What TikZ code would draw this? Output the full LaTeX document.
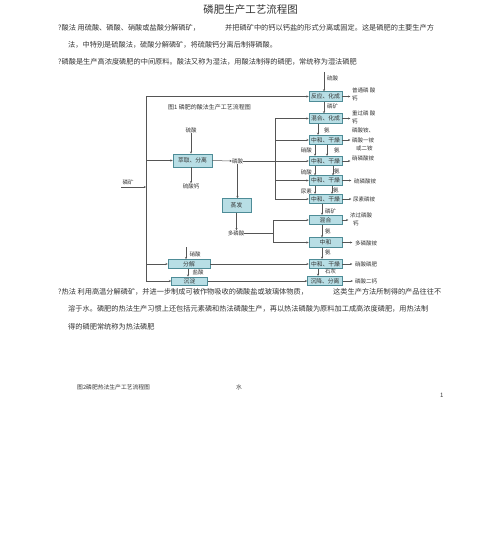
\documentclass[tikz,border=0pt]{standalone}
\usepackage{fontspec}
\setmainfont{Noto Sans CJK SC}
\usetikzlibrary{arrows.meta}
\definecolor{boxfill}{HTML}{B8DEE5}
\definecolor{boxline}{HTML}{4E8C97}
\definecolor{lin}{HTML}{555555}
\definecolor{txt}{HTML}{333333}
\tikzset{
  body/.style={anchor=west,inner sep=0pt,text=txt,font=\fontsize{7.2}{8}\selectfont},
  pbox/.style={draw=boxline,fill=boxfill,line width=0.6pt,inner sep=0pt,minimum width=33pt,minimum height=9.5pt,text=txt,font=\fontsize{5.8}{6}\selectfont},
  lab/.style={inner sep=0pt,text=txt,font=\fontsize{5.5}{6}\selectfont},
  outl/.style={lab,anchor=west,align=left},
  ln/.style={draw=lin,line width=0.5pt},
  arr/.style={ln,-{Stealth[length=2.2pt,width=2pt]}}
}
\begin{document}
\begin{tikzpicture}[x=1pt,y=-1pt]
\useasboundingbox (0,0) rectangle (500,540);
% ---- text ----
\node[inner sep=0pt,text=txt,font=\fontsize{10.5}{11}\selectfont] (title) at (250.5,10) {磷肥生产工艺流程图};
\node[body] (t1a) at (58,28) {?酸法 用硫酸、磷酸、硝酸或盐酸分解磷矿，};
\node[body] (t1b) at (225,28) {并把磷矿中的钙以钙盐的形式分离或固定。这是磷肥的主要生产方};
\node[body] (t2) at (68,45) {法，中特别是硫酸法，硫酸分解磷矿，将硫酸钙分离后制得磷酸。};
\node[body] (t3) at (58,62) {?磷酸是生产高浓度磷肥的中间原料。酸法又称为湿法，用酸法制得的磷肥，常统称为湿法磷肥};
\node[body] (u1a) at (58,292) {?热法 利用高温分解磷矿，并进一步制成可被作物吸收的磷酸盐或玻璃体物质，};
\node[body] (u1b) at (333,292) {这类生产方法所制得的产品往往不};
\node[body] (u2) at (68,309) {溶于水。磷肥的热法生产习惯上还包括元素磷和热法磷酸生产，再以热法磷酸为原料加工成高浓度磷肥，用热法制};
\node[body] (u3) at (68,327) {得的磷肥常统称为热法磷肥};
\node[body,font=\fontsize{5.8}{6}\selectfont] (cap2) at (77,387) {图2磷肥热法生产工艺流程图};
\node[body,font=\fontsize{5.8}{6}\selectfont] (water) at (236,387) {水};
\node[body,font=\fontsize{6}{6}\selectfont] (pg) at (440,395) {1};
\node[lab,anchor=west,font=\fontsize{6}{6}\selectfont] (cap1) at (168,107) {图1 磷肥的酸法生产工艺流程图};
% ---- right column boxes ----
\node[pbox] (b1) at (325.5,96.5) {反应、化成};
\node[pbox] (b2) at (325.5,118.5) {混合、化成};
\node[pbox] (b3) at (325.5,140) {中和、干燥};
\node[pbox] (b4) at (325.5,161) {中和、干燥};
\node[pbox] (b5) at (325.5,180.5) {中和、干燥};
\node[pbox] (b6) at (325.5,199) {中和、干燥};
\node[pbox] (b7) at (325.5,220) {混合};
\node[pbox] (b8) at (325.5,242.5) {中和};
\node[pbox] (b9) at (325.5,264) {中和、干燥};
\node[pbox,minimum width=35pt] (b10) at (325,281) {沉降、分离};
% ---- left boxes ----
\node[pbox,minimum width=39pt,minimum height=13pt] (sx) at (192.5,160.5) {萃取、分离};
\node[pbox,minimum width=29pt,minimum height=14pt] (zf) at (236.5,205.5) {蒸发};
\node[pbox,minimum width=42pt,minimum height=9pt] (fj) at (189,264) {分解};
\node[pbox,minimum width=36pt,minimum height=8pt] (cd) at (189.5,281) {沉淀};
% ---- left labels ----
\node[lab] (h2so4a) at (191,130) {硫酸};
\node[lab] (caso4) at (191,186) {硫酸钙};
\node[lab] (rock) at (128,182) {磷矿};
\node[lab] (h3po4) at (237.5,161) {磷酸};
\node[lab] (ppa) at (236,233) {多磷酸};
\node[lab] (hno3a) at (195,254) {硝酸};
\node[lab] (hcl) at (198,272.5) {盐酸};
% ---- right input labels ----
\node[lab,anchor=west] (l1) at (327,78) {硫酸};
\node[lab,anchor=west] (l2) at (327,106) {磷矿};
\node[lab,anchor=west] (l3) at (324,130) {氨};
\node[lab,anchor=east] (l4a) at (312,150) {硝酸};
\node[lab,anchor=west] (l4b) at (334,150) {氨};
\node[lab,anchor=east] (l5a) at (312,172) {硫酸};
\node[lab,anchor=west] (l5b) at (334,171.5) {氨};
\node[lab,anchor=east] (l6a) at (312,191.5) {尿素};
\node[lab,anchor=west] (l6b) at (333,190.5) {氨};
\node[lab,anchor=west] (l7) at (325,211) {磷矿};
\node[lab,anchor=west] (l8) at (325,231) {氨};
\node[lab,anchor=west] (l9) at (325,252.5) {氨};
\node[lab,anchor=west] (l10) at (325,271) {石灰};
% ---- outputs ----
\node[outl] (o1a) at (352,90) {普通磷 酸};
\node[outl] (o1b) at (352,98.5) {钙};
\node[outl] (o2a) at (352,113) {重过磷 酸};
\node[outl] (o2b) at (352,121.5) {钙};
\node[outl] (o3a) at (352,130.5) {磷酸铵、};
\node[outl] (o3b) at (352,140) {磷酸一铵};
\node[outl] (o3c) at (356,148.5) {或二铵};
\node[outl] (o4) at (352,158.5) {硝磷酸铵};
\node[outl] (o5) at (354,181) {硫磷酸铵};
\node[outl] (o6) at (353,199.5) {尿素磷铵};
\node[outl] (o7a) at (350,215) {浓过磷酸};
\node[outl] (o7b) at (353,223.5) {钙};
\node[outl] (o8) at (355,243) {多磷酸铵};
\node[outl] (o9) at (355,264) {硝酸磷肥};
\node[outl] (o10) at (355,281) {磷酸二钙};
% ---- coordinates ----
\coordinate (vtop) at (146,96.5);
\coordinate (vsx) at (146,160.5);
\coordinate (vrock) at (146,187);
\coordinate (vfj) at (146,264);
\coordinate (vbot) at (146,281);
\coordinate (rockst) at (121,187);
\coordinate (hno3st) at (186,247);
\coordinate (hclst) at (188,268.5);
\coordinate (d1top) at (275,118.5);
\coordinate (d1mid) at (275,161);
\coordinate (d1bot) at (275,199);
\coordinate (d2top) at (273,220);
\coordinate (d2mid) at (273,233);
\coordinate (d2bot) at (273,242.5);
\coordinate (h2so4st) at (324,72);
% ---- left connectors ----
\draw[ln] (vtop) -- (vbot);
\draw[arr] (vtop) -- (b1.west);
\draw[arr] (vsx) -- (sx.west);
\draw[arr] (rockst) -- (vrock);
\draw[arr] (vfj) -- (fj.west);
\draw[arr] (vbot) -- (cd.west);
\draw[arr] (fj.east) -- (b9.west);
\draw[arr] (cd.east) -- (b10.west);
\draw[arr] (h2so4a.south) -- (sx.north -| h2so4a.south);
\draw[arr] (sx.south -| caso4.north) -- (caso4.north);
\draw[arr] (sx.east) -- (h3po4.west);
\draw[arr] (h3po4.south) -- (zf.north -| h3po4.south);
\draw[arr] (zf.south) -- (ppa.north -| zf.south);
\draw[arr] (hno3st) -- (fj.north -| hno3st);
\draw[arr] (hclst) -- (cd.north -| hclst);
% ---- distribution ----
\draw[ln] (h3po4.east) -- (d1mid);
\draw[ln] (d1top) -- (d1bot);
\draw[arr] (d1top) -- (b2.west);
\draw[arr] (d1top |- b3.west) -- (b3.west);
\draw[arr] (d1mid) -- (b4.west);
\draw[arr] (d1top |- b5.west) -- (b5.west);
\draw[arr] (d1bot) -- (b6.west);
\draw[ln] (ppa.east) -- (d2mid);
\draw[ln] (d2top) -- (d2bot);
\draw[arr] (d2top) -- (b7.west);
\draw[arr] (d2bot) -- (b8.west);
% ---- right inputs ----
\draw[arr] (h2so4st) -- (b1.north -| h2so4st);
\draw[arr] (b1.south -| 324,0) -- (b2.north -| 324,0);
\draw[arr] (b2.south -| 318,0) -- (b3.north -| 318,0);
\draw[arr] (b3.south -| 315,0) -- (b4.north -| 315,0);
\draw[arr] (b3.south -| 327,0) -- (b4.north -| 327,0);
\draw[arr] (b4.south -| 315,0) -- (b5.north -| 315,0);
\draw[arr] (b4.south -| 333,0) -- (b5.north -| 333,0);
\draw[arr] (b5.south -| 315,0) -- (b6.north -| 315,0);
\draw[arr] (b5.south -| 332,0) -- (b6.north -| 332,0);
\draw[arr] (b6.south -| 322,0) -- (b7.north -| 322,0);
\draw[arr] (b7.south -| 322,0) -- (b8.north -| 322,0);
\draw[arr] (b8.south -| 322,0) -- (b9.north -| 322,0);
\draw[arr] (b9.south -| 318,0) -- (b10.north -| 318,0);
% ---- outputs arrows ----
\draw[arr] (b1.east) -- ++(8,0);
\draw[arr] (b2.east) -- ++(8,0);
\draw[arr] (b3.east) -- ++(8,0);
\draw[arr] (b4.east) -- ++(8,0);
\draw[arr] (b5.east) -- ++(9,0);
\draw[arr] (b6.east) -- ++(9,0);
\draw[arr] (b7.east) -- ++(6,0);
\draw[arr] (b8.east) -- ++(10,0);
\draw[arr] (b9.east) -- ++(10,0);
\draw[arr] (b10.east) -- ++(10,0);
\end{tikzpicture}
\end{document}
